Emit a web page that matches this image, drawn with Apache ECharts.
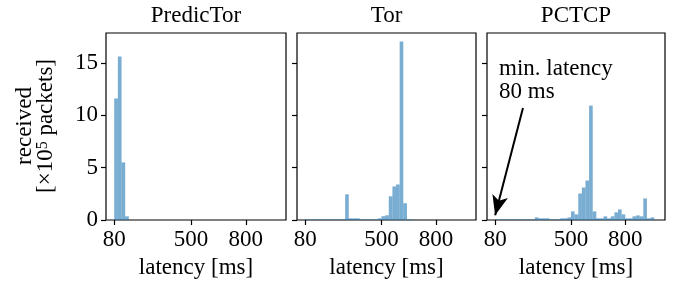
<!DOCTYPE html>
<html>
<head>
<meta charset="utf-8">
<script src="https://cdn.jsdelivr.net/npm/echarts@6/dist/echarts.min.js"></script>
<style>
    html, body { margin: 0; padding: 0; background: #fff; }
    #chart { width: 686px; height: 284px; }
</style>
</head>
<body>
<div id="chart"></div>
<script>
// histogram bins: left edges [ms], each 20 ms wide
var binLefts = [80, 100, 120, 140, 160, 180, 200, 220, 240, 260, 280, 300, 320, 340, 360, 380, 400, 420, 440, 460, 480, 500,
                520, 540, 560, 580, 600, 620, 640, 660, 680, 700, 720, 740, 760, 780, 800, 820, 840, 860, 880, 900, 920, 940];
var binWidth = 20;

var panelTitles = ['PredicTor', 'Tor', 'PCTCP'];

// received packets, x10^5
var predictorCounts = [11.6, 15.6, 5.5, 0.35, 0, 0, 0, 0, 0, 0, 0, 0, 0, 0, 0, 0, 0, 0, 0, 0, 0, 0,
                       0, 0, 0, 0, 0, 0, 0, 0, 0, 0, 0, 0, 0, 0, 0, 0, 0, 0, 0, 0, 0, 0];
var torCounts = [0.06, 0.06, 0.06, 0.06, 0.06, 0.06, 0.06, 0.06, 0.06, 0.06, 0.06, 2.45, 0.16, 0.16, 0.16, 0.06, 0.06, 0.06, 0.06, 0.06, 0.16, 0.36,
                 0.45, 2.26, 3.2, 3.39, 17.05, 1.6, 0.06, 0.06, 0, 0, 0, 0, 0, 0, 0, 0, 0, 0, 0, 0, 0, 0];
var pctcpCounts = [0.06, 0.06, 0.06, 0.06, 0.06, 0.06, 0.06, 0.06, 0.06, 0.06, 0.06, 0.25, 0.16, 0.16, 0.16, 0.06, 0.06, 0.06, 0.16, 0.16, 0.25, 0.82,
                   0.54, 2.53, 3.1, 3.77, 10.92, 0.82, 0.16, 0.16, 0.35, 0.16, 0.35, 0.73, 1.01, 0.54, 0.16, 0.16, 0.35, 0.44, 0.35, 2.06, 0.16, 0.25];

var xTicks = [80, 500, 800];
var yTicks = [0, 5, 10, 15];

var FONT = 'Liberation Serif';
var FS = 23;
var barColor = 'rgba(31,119,180,0.6)';

var grids = [
    {left: 106, width: 180, top: 33, height: 188},
    {left: 297, width: 179, top: 33, height: 188},
    {left: 487, width: 178, top: 33, height: 188}
];

function histData(counts) {
    return binLefts.map(function (b, i) { return [b, b + binWidth, counts[i]]; });
}

function renderBin(params, api) {
    var p0 = api.coord([api.value(0), api.value(2)]);
    var p1 = api.coord([api.value(1), 0]);
    return {
        type: 'rect',
        shape: {x: p0[0], y: p0[1], width: p1[0] - p0[0], height: p1[1] - p0[1]},
        style: {fill: barColor}
    };
}

var chart = echarts.init(document.getElementById('chart'), null, {renderer: 'canvas'});

var option = {
    animation: false,
    textStyle: {fontFamily: FONT},
    title: panelTitles.map(function (t, i) {
        return {
            text: t,
            left: grids[i].left + grids[i].width / 2,
            top: 4,
            textAlign: 'center',
            padding: 0,
            textStyle: {fontFamily: FONT, fontSize: FS, fontWeight: 'normal', color: '#000'}
        };
    }),
    grid: grids.map(function (g) {
        return {left: g.left, width: g.width, top: g.top, height: g.height, show: true,
                borderColor: '#000', borderWidth: 1.2, backgroundColor: 'transparent'};
    }),
    xAxis: grids.map(function (g, i) {
        return {
            type: 'value', gridIndex: i, min: 35, max: 1020,
            name: 'latency [ms]', nameLocation: 'middle', nameGap: 36,
            nameTextStyle: {fontFamily: FONT, fontSize: FS, color: '#000'},
            axisLine: {show: false},
            splitLine: {show: false},
            axisTick: {show: true, customValues: xTicks, length: 5, lineStyle: {color: '#000', width: 1.2}},
            axisLabel: {customValues: xTicks, fontFamily: FONT, fontSize: FS, color: '#000', margin: 8}
        };
    }),
    yAxis: grids.map(function (g, i) {
        return {
            type: 'value', gridIndex: i, min: 0, max: 17.85, interval: 5,
            axisLine: {show: false},
            splitLine: {show: false},
            axisTick: {show: true, customValues: yTicks, length: 5, lineStyle: {color: '#000', width: 1.2}},
            axisLabel: {show: i === 0, customValues: yTicks, fontFamily: FONT, fontSize: FS, color: '#000', margin: 8}
        };
    }),
    series: [predictorCounts, torCounts, pctcpCounts].map(function (counts, i) {
        var s = {
            type: 'custom', xAxisIndex: i, yAxisIndex: i,
            renderItem: renderBin,
            encode: {x: [0, 1], y: 2},
            data: histData(counts)
        };
        if (i === 2) {
            s.markLine = {
                silent: true,
                symbol: ['none', 'arrow'],
                symbolSize: [12, 20],
                label: {show: false},
                lineStyle: {color: '#000', width: 2, type: 'solid'},
                data: [[{coord: [234, 10.7]}, {coord: [80, 0.45]}]]
            };
        }
        return s;
    }),
    graphic: [
        {
            type: 'text', x: 35, y: 126, rotation: Math.PI / 2,
            style: {
                text: 'received\n[×10{sup|5} packets]',
                fontFamily: FONT, fontSize: FS, fill: '#000',
                align: 'center', verticalAlign: 'middle', lineHeight: 21,
                rich: {sup: {fontFamily: FONT, fontSize: 16, verticalAlign: 'top', padding: [0, 0, 8, 0]}}
            }
        },
        {
            type: 'text', x: 499, y: 57,
            style: {
                text: 'min. latency\n80 ms',
                fontFamily: FONT, fontSize: FS, fill: '#000', lineHeight: 23
            }
        }
    ]
};

chart.setOption(option);
</script>
</body>
</html>
